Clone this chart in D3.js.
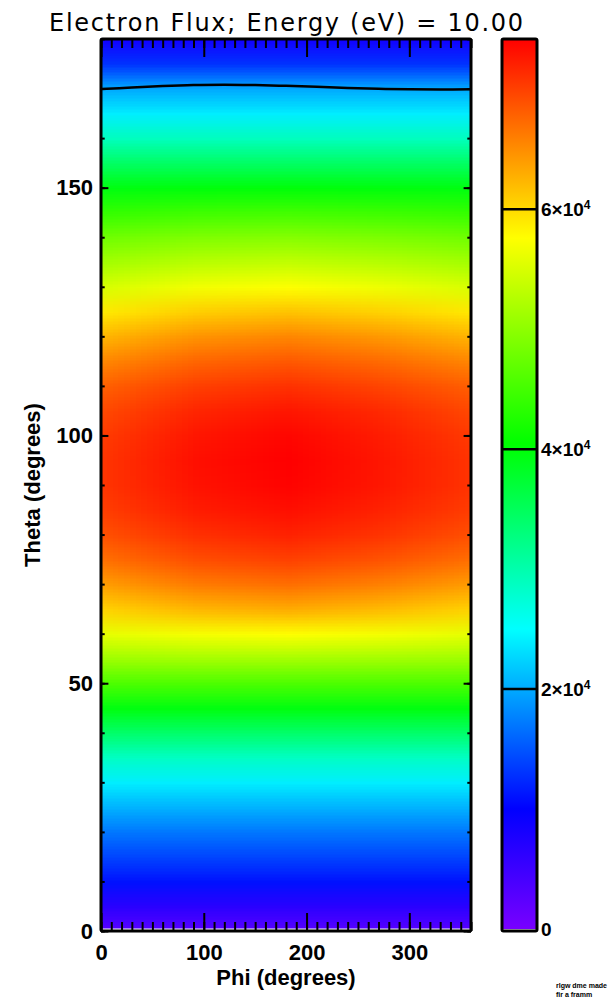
<!DOCTYPE html>
<meta charset="utf-8">
<head>
    <title>Electron Flux; Energy (eV) = 10.00</title>
    <script src="https://cdnjs.cloudflare.com/ajax/libs/d3/7.8.5/d3.min.js"></script>
    <style>
        body { margin: 0; background: #fff; }
        svg { display: block; }
        .tick line { stroke: #000; stroke-width: 2px; }
        .lbl { font-family: "Liberation Sans", Arial, sans-serif; font-weight: bold; fill: #000; }
    </style>
</head>
<body>
<svg id="chart"></svg>
<script>
    // flux grid, values in units of 1e4; rows follow thetaGrid, columns follow phiGrid
    var phiGrid = [0, 90, 180, 270, 360];
    var thetaGrid = [0, 5, 10, 15, 20, 25, 30, 35, 40, 45, 50, 55, 60, 65, 70, 75, 80, 85, 90,
        95, 100, 105, 110, 115, 120, 125, 130, 135, 140, 145, 150, 155, 160, 165, 170, 175, 180];
    var flux = [
        [0.25, 0.25, 0.25, 0.25, 0.25],
        [0.65, 0.65, 0.65, 0.65, 0.65],
        [1.10, 1.10, 1.10, 1.10, 1.10],
        [1.40, 1.40, 1.40, 1.40, 1.40],
        [1.70, 1.70, 1.70, 1.70, 1.70],
        [2.05, 2.05, 2.05, 2.05, 2.05],
        [2.40, 2.40, 2.40, 2.40, 2.40],
        [2.85, 2.85, 2.85, 2.85, 2.85],
        [3.40, 3.40, 3.40, 3.40, 3.40],
        [3.95, 3.95, 3.95, 3.95, 3.95],
        [4.55, 4.55, 4.55, 4.55, 4.55],
        [5.10, 5.14, 5.15, 5.13, 5.10],
        [5.60, 5.70, 5.75, 5.69, 5.60],
        [6.05, 6.23, 6.30, 6.20, 6.05],
        [6.40, 6.61, 6.70, 6.58, 6.40],
        [6.70, 6.91, 7.00, 6.88, 6.70],
        [6.90, 7.11, 7.20, 7.08, 6.90],
        [7.02, 7.24, 7.32, 7.20, 7.02],
        [7.08, 7.30, 7.40, 7.27, 7.08],
        [7.08, 7.32, 7.42, 7.28, 7.08],
        [7.04, 7.28, 7.38, 7.24, 7.04],
        [6.95, 7.18, 7.28, 7.15, 6.95],
        [6.80, 7.01, 7.10, 6.98, 6.80],
        [6.55, 6.76, 6.85, 6.73, 6.55],
        [6.25, 6.46, 6.55, 6.43, 6.25],
        [5.90, 6.08, 6.15, 6.05, 5.90],
        [5.50, 5.68, 5.75, 5.65, 5.50],
        [5.15, 5.29, 5.35, 5.27, 5.15],
        [4.80, 4.91, 4.95, 4.89, 4.80],
        [4.40, 4.47, 4.50, 4.46, 4.40],
        [3.95, 3.99, 4.00, 3.98, 3.95],
        [3.45, 3.45, 3.45, 3.45, 3.45],
        [2.90, 2.90, 2.90, 2.90, 2.90],
        [2.40, 2.40, 2.40, 2.40, 2.40],
        [2.00, 2.00, 2.00, 2.00, 2.00],
        [1.30, 1.30, 1.30, 1.30, 1.30],
        [0.85, 0.85, 0.85, 0.85, 0.85]
    ];

    // the black contour line near the top
    var contourPhi = [0, 30, 60, 90, 120, 150, 180, 210, 240, 270, 300, 330, 360];
    var contourTheta = [169.9, 170.2, 170.5, 170.7, 170.75, 170.7, 170.55, 170.35, 170.1, 169.95, 169.85, 169.8, 169.85];

    var xTickValues = [0, 100, 200, 300];
    var yTickValues = [0, 50, 100, 150];
    var barTickValues = [0, 2, 4, 6];
    var barTickLabels = ["0", "2×10", "4×10", "6×10"];
    var barTickExp = ["", "4", "4", "4"];

    var colorStops = [0, 1.0, 2.5, 4.05, 5.76, 7.42];
    var colorList = ["#7800ff", "#0000ff", "#00ffff", "#00ff00", "#ffff00", "#ff0000"];

    var W = 614, H = 999;
    var svg = d3.select("#chart").attr("width", W).attr("height", H);

    var x = d3.scaleLinear().domain([0, 360]).range([101, 471]);
    var y = d3.scaleLinear().domain([0, 180]).range([931, 39]);
    var cb = d3.scaleLinear().domain([0, 7.42]).range([929, 39]);
    var color = d3.scaleLinear().domain(colorStops).range(colorList).clamp(true);

    // title
    svg.append("text")
        .attr("x", 286).attr("y", 31)
        .attr("text-anchor", "middle")
        .attr("textLength", 474).attr("lengthAdjust", "spacing")
        .style("font-family", "'DejaVu Sans', sans-serif")
        .style("font-size", "24px")
        .text("Electron Flux; Energy (eV) = 10.00");

    // image of the grid, scaled up by the browser
    var cvs = document.createElement("canvas");
    cvs.width = phiGrid.length;
    cvs.height = thetaGrid.length;
    var ctx = cvs.getContext("2d");
    var img = ctx.createImageData(cvs.width, cvs.height);
    thetaGrid.forEach(function (t, i) {
        var row = thetaGrid.length - 1 - i;
        phiGrid.forEach(function (p, j) {
            var c = d3.rgb(color(flux[i][j]));
            var k = (row * cvs.width + j) * 4;
            img.data[k] = c.r; img.data[k + 1] = c.g; img.data[k + 2] = c.b; img.data[k + 3] = 255;
        });
    });
    ctx.putImageData(img, 0, 0);

    var cw = (x(360) - x(0)) / (phiGrid.length - 1);
    var ch = (y(0) - y(180)) / (thetaGrid.length - 1);

    svg.append("clipPath").attr("id", "plotclip")
        .append("rect")
        .attr("x", x(0)).attr("y", y(180))
        .attr("width", x(360) - x(0)).attr("height", y(0) - y(180));

    svg.append("g").attr("clip-path", "url(#plotclip)")
        .append("image")
        .attr("href", cvs.toDataURL())
        .attr("x", x(0) - cw / 2)
        .attr("y", y(180) - ch / 2)
        .attr("width", cw * phiGrid.length)
        .attr("height", ch * thetaGrid.length)
        .attr("preserveAspectRatio", "none");

    // thin white row at theta = 0
    svg.append("rect")
        .attr("x", x(0)).attr("y", y(0) - 2.5)
        .attr("width", x(360) - x(0)).attr("height", 2.5)
        .attr("fill", "#fff");

    // contour
    var line = d3.line()
        .x(function (d, i) { return x(contourPhi[i]); })
        .y(function (d, i) { return y(contourTheta[i]); })
        .curve(d3.curveCatmullRom);
    svg.append("path")
        .attr("clip-path", "url(#plotclip)")
        .attr("d", line(contourPhi))
        .attr("fill", "none")
        .attr("stroke", "#000")
        .attr("stroke-width", 2.5);

    // axes
    function styleAxis(g) {
        g.select(".domain").remove();
        g.selectAll("text").attr("class", "lbl").style("font-size", "22px").attr("fill", "#000");
    }
    var majorX = 18, minorX = 9, majorY = 7.4, minorY = 3.7;

    svg.append("g").attr("transform", "translate(0," + y(0) + ")")
        .call(d3.axisBottom(x).tickValues(x.ticks(36)).tickSizeInner(-minorX).tickSizeOuter(0).tickFormat(""))
        .call(styleAxis);
    svg.append("g").attr("transform", "translate(0," + y(0) + ")")
        .call(d3.axisBottom(x).tickValues(xTickValues).tickSizeInner(-majorX).tickSizeOuter(0)
            .tickPadding(13).tickFormat(d3.format("d")))
        .call(styleAxis);
    svg.append("g").attr("transform", "translate(0," + y(180) + ")")
        .call(d3.axisTop(x).tickValues(x.ticks(36)).tickSizeInner(-minorX).tickSizeOuter(0).tickFormat(""))
        .call(styleAxis);
    svg.append("g").attr("transform", "translate(0," + y(180) + ")")
        .call(d3.axisTop(x).tickValues(xTickValues).tickSizeInner(-majorX).tickSizeOuter(0).tickFormat(""))
        .call(styleAxis);

    svg.append("g").attr("transform", "translate(" + x(0) + ",0)")
        .call(d3.axisLeft(y).tickValues(y.ticks(18)).tickSizeInner(-minorY).tickSizeOuter(0).tickFormat(""))
        .call(styleAxis);
    svg.append("g").attr("transform", "translate(" + x(0) + ",0)")
        .call(d3.axisLeft(y).tickValues(yTickValues).tickSizeInner(-majorY).tickSizeOuter(0)
            .tickPadding(8).tickFormat(d3.format("d")))
        .call(styleAxis);
    svg.append("g").attr("transform", "translate(" + x(360) + ",0)")
        .call(d3.axisRight(y).tickValues(y.ticks(18)).tickSizeInner(-minorY).tickSizeOuter(0).tickFormat(""))
        .call(styleAxis);
    svg.append("g").attr("transform", "translate(" + x(360) + ",0)")
        .call(d3.axisRight(y).tickValues(yTickValues).tickSizeInner(-majorY).tickSizeOuter(0).tickFormat(""))
        .call(styleAxis);

    // plot frame
    svg.append("rect")
        .attr("x", x(0)).attr("y", y(180))
        .attr("width", x(360) - x(0)).attr("height", y(0) - y(180))
        .attr("fill", "none").attr("stroke", "#000").attr("stroke-width", 3)
        .attr("rx", 1.5);

    // axis titles
    svg.append("text").attr("class", "lbl")
        .attr("x", (x(0) + x(360)) / 2).attr("y", 985)
        .attr("text-anchor", "middle").style("font-size", "22px")
        .text("Phi (degrees)");
    svg.append("text").attr("class", "lbl")
        .attr("transform", "translate(40," + 485 + ") rotate(-90)")
        .attr("text-anchor", "middle").style("font-size", "22px")
        .text("Theta (degrees)");

    // colour bar
    var bx0 = 502, bx1 = 537;
    var grad = svg.append("defs").append("linearGradient")
        .attr("id", "cbgrad")
        .attr("gradientUnits", "userSpaceOnUse")
        .attr("x1", 0).attr("x2", 0)
        .attr("y1", cb(0)).attr("y2", cb(7.42));
    colorStops.forEach(function (s, i) {
        grad.append("stop").attr("offset", s / 7.42).attr("stop-color", colorList[i]);
    });
    svg.append("rect")
        .attr("x", bx0).attr("y", cb(7.42))
        .attr("width", bx1 - bx0).attr("height", cb(0) - cb(7.42))
        .attr("fill", "url(#cbgrad)");
    svg.append("rect")
        .attr("x", bx0).attr("y", cb(0))
        .attr("width", bx1 - bx0).attr("height", y(0) - cb(0))
        .attr("fill", "#fff");

    svg.append("g").selectAll("line")
        .data(barTickValues.filter(function (d) { return d > 0; }))
        .enter().append("line")
        .attr("x1", bx0).attr("x2", bx1)
        .attr("y1", function (d) { return cb(d); })
        .attr("y2", function (d) { return cb(d); })
        .attr("stroke", "#000").attr("stroke-width", 2.5);

    svg.append("rect")
        .attr("x", bx0).attr("y", y(180))
        .attr("width", bx1 - bx0).attr("height", y(0) - y(180))
        .attr("fill", "none").attr("stroke", "#000").attr("stroke-width", 3)
        .attr("rx", 1.5);

    var lab = svg.append("g").selectAll("text")
        .data(barTickValues)
        .enter().append("text")
        .attr("class", "lbl")
        .attr("x", 541)
        .attr("y", function (d) { return cb(d) + 7; })
        .style("font-size", "19px");
    lab.append("tspan").text(function (d, i) { return barTickLabels[i]; });
    lab.append("tspan")
        .attr("dy", -7)
        .style("font-size", "12px")
        .text(function (d, i) { return barTickExp[i]; });

    // small footnote, cut off at the right edge
    svg.append("text").attr("class", "lbl")
        .attr("x", 556).attr("y", 988).style("font-size", "7px")
        .text("rlgw dme made");
    svg.append("text").attr("class", "lbl")
        .attr("x", 556).attr("y", 997).style("font-size", "7px")
        .text("fir a framm");
</script>
</body>
</html>
